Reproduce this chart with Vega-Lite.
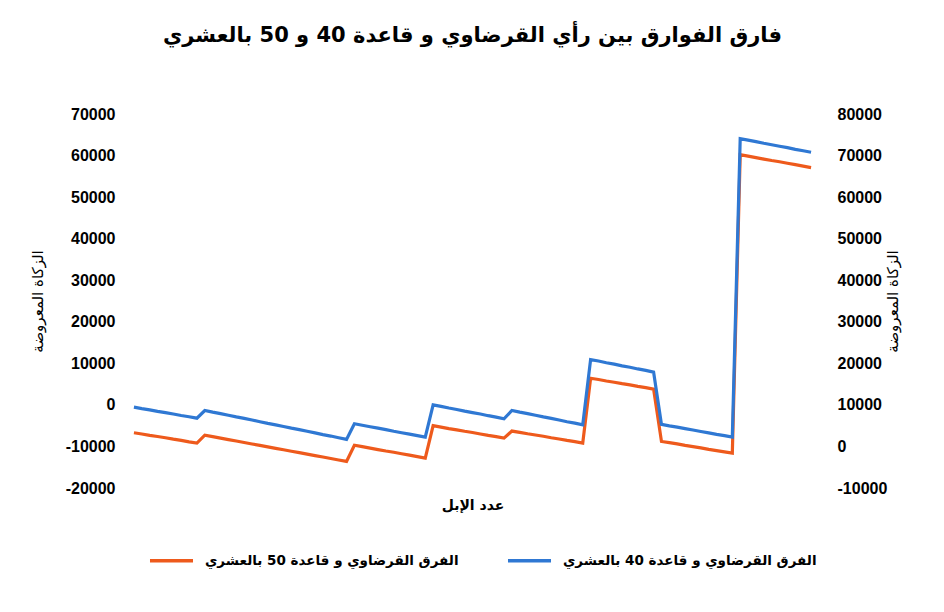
{
  "$schema": "https://vega.github.io/schema/vega-lite/v6.json",
  "width": 685,
  "height": 374,
  "autosize": {"type": "none"},
  "padding": {"left": 130, "top": 114, "right": 129, "bottom": 124},
  "background": "white",
  "title": {
    "text": "فارق الفوارق بين رأي القرضاوي و قاعدة 40 و 50  بالعشري",
    "font": "DejaVu Sans",
    "fontSize": 21,
    "fontWeight": "bold",
    "color": "#000000",
    "anchor": "middle",
    "frame": "group",
    "offset": 60
  },
  "config": {
    "view": {"stroke": null},
    "axis": {"grid": false, "domain": false, "ticks": false}
  },
  "data": {
    "values": [
      {"n": 0, "o": -6700, "b": 9450},
      {"n": 1, "o": -7000, "b": 9100},
      {"n": 2, "o": -7350, "b": 8800},
      {"n": 3, "o": -7600, "b": 8450},
      {"n": 4, "o": -7900, "b": 8150},
      {"n": 5, "o": -8250, "b": 7800},
      {"n": 6, "o": -8550, "b": 7450},
      {"n": 7, "o": -8900, "b": 7150},
      {"n": 8, "o": -9200, "b": 6800},
      {"n": 9, "o": -7300, "b": 8650},
      {"n": 10, "o": -7650, "b": 8250},
      {"n": 11, "o": -8000, "b": 7900},
      {"n": 12, "o": -8350, "b": 7500},
      {"n": 13, "o": -8700, "b": 7100},
      {"n": 14, "o": -9050, "b": 6750},
      {"n": 15, "o": -9400, "b": 6350},
      {"n": 16, "o": -9750, "b": 5950},
      {"n": 17, "o": -10100, "b": 5550},
      {"n": 18, "o": -10450, "b": 5200},
      {"n": 19, "o": -10800, "b": 4800},
      {"n": 20, "o": -11150, "b": 4400},
      {"n": 21, "o": -11500, "b": 4050},
      {"n": 22, "o": -11850, "b": 3650},
      {"n": 23, "o": -12200, "b": 3250},
      {"n": 24, "o": -12550, "b": 2850},
      {"n": 25, "o": -12900, "b": 2500},
      {"n": 26, "o": -13250, "b": 2100},
      {"n": 27, "o": -13600, "b": 1700},
      {"n": 28, "o": -9700, "b": 5450},
      {"n": 29, "o": -10050, "b": 5100},
      {"n": 30, "o": -10400, "b": 4750},
      {"n": 31, "o": -10750, "b": 4400},
      {"n": 32, "o": -11100, "b": 4050},
      {"n": 33, "o": -11400, "b": 3650},
      {"n": 34, "o": -11750, "b": 3300},
      {"n": 35, "o": -12100, "b": 2950},
      {"n": 36, "o": -12450, "b": 2600},
      {"n": 37, "o": -12800, "b": 2250},
      {"n": 38, "o": -5000, "b": 10000},
      {"n": 39, "o": -5350, "b": 9650},
      {"n": 40, "o": -5700, "b": 9250},
      {"n": 41, "o": -6000, "b": 8900},
      {"n": 42, "o": -6350, "b": 8500},
      {"n": 43, "o": -6650, "b": 8150},
      {"n": 44, "o": -7000, "b": 7800},
      {"n": 45, "o": -7350, "b": 7400},
      {"n": 46, "o": -7650, "b": 7050},
      {"n": 47, "o": -8000, "b": 6650},
      {"n": 48, "o": -6300, "b": 8650},
      {"n": 49, "o": -6600, "b": 8250},
      {"n": 50, "o": -6950, "b": 7900},
      {"n": 51, "o": -7250, "b": 7500},
      {"n": 52, "o": -7550, "b": 7100},
      {"n": 53, "o": -7900, "b": 6750},
      {"n": 54, "o": -8200, "b": 6350},
      {"n": 55, "o": -8550, "b": 5950},
      {"n": 56, "o": -8850, "b": 5600},
      {"n": 57, "o": -9200, "b": 5200},
      {"n": 58, "o": 6400, "b": 20900},
      {"n": 59, "o": 6100, "b": 20550},
      {"n": 60, "o": 5750, "b": 20150},
      {"n": 61, "o": 5450, "b": 19800},
      {"n": 62, "o": 5100, "b": 19400},
      {"n": 63, "o": 4800, "b": 19050},
      {"n": 64, "o": 4450, "b": 18650},
      {"n": 65, "o": 4150, "b": 18300},
      {"n": 66, "o": 3800, "b": 17900},
      {"n": 67, "o": -8800, "b": 5300},
      {"n": 68, "o": -9100, "b": 4950},
      {"n": 69, "o": -9400, "b": 4650},
      {"n": 70, "o": -9750, "b": 4300},
      {"n": 71, "o": -10050, "b": 3950},
      {"n": 72, "o": -10350, "b": 3600},
      {"n": 73, "o": -10700, "b": 3250},
      {"n": 74, "o": -11000, "b": 2900},
      {"n": 75, "o": -11300, "b": 2600},
      {"n": 76, "o": -11600, "b": 2250},
      {"n": 77, "o": 60200, "b": 74050},
      {"n": 78, "o": 59850, "b": 73700},
      {"n": 79, "o": 59500, "b": 73350},
      {"n": 80, "o": 59150, "b": 72950},
      {"n": 81, "o": 58800, "b": 72600},
      {"n": 82, "o": 58500, "b": 72250},
      {"n": 83, "o": 58150, "b": 71900},
      {"n": 84, "o": 57800, "b": 71500},
      {"n": 85, "o": 57450, "b": 71150},
      {"n": 86, "o": 57100, "b": 70800}
    ]
  },
  "encoding": {
    "x": {
      "field": "n",
      "type": "quantitative",
      "scale": {"domain": [-0.5, 86.5], "nice": false, "zero": false},
      "axis": {
        "labels": false,
        "ticks": false,
        "domain": false,
        "grid": false,
        "title": "عدد الإبل",
        "titleFont": "DejaVu Sans",
        "titleFontSize": 14,
        "titleFontWeight": "bold",
        "titleColor": "#000000",
        "titlePadding": 10
      }
    }
  },
  "layer": [
    {
      "mark": {"type": "line", "strokeWidth": 3.2, "interpolate": "linear"},
      "encoding": {
        "y": {
          "field": "o",
          "type": "quantitative",
          "scale": {"domain": [-20000, 70000], "nice": false, "zero": false},
          "axis": {
            "orient": "left",
            "values": [-20000, -10000, 0, 10000, 20000, 30000, 40000, 50000, 60000, 70000],
            "format": "d",
            "labelExpr": "replace(datum.label, '\u2212', '-')",
            "labelFont": "Liberation Sans",
            "labelFontSize": 16,
            "labelFontWeight": "bold",
            "labelColor": "#000000",
            "labelPadding": 15,
            "title": "الزكاة المعروضة",
            "titleFont": "DejaVu Sans",
            "titleFontSize": 15,
            "titleFontWeight": "normal",
            "titleColor": "#000000",
            "titlePadding": 20
          }
        },
        "color": {
          "datum": "الفرق القرضاوي و قاعدة  50  بالعشري",
          "type": "nominal",
          "scale": {
            "domain": ["الفرق القرضاوي و قاعدة  50  بالعشري", "الفرق القرضاوي و قاعدة  40  بالعشري"],
            "range": ["#EE5A1C", "#2F78D3"]
          },
          "legend": {
            "title": null,
            "orient": "none",
            "legendX": 18,
            "legendY": 423,
            "direction": "horizontal",
            "symbolType": "stroke",
            "symbolSize": 1850,
            "symbolStrokeWidth": 3.5,
            "labelFont": "DejaVu Sans",
            "labelFontSize": 13.5,
            "labelFontWeight": "bold",
            "labelColor": "#000000",
            "labelOffset": 10,
            "columnPadding": 32,
            "labelLimit": 400
          }
        }
      }
    },
    {
      "mark": {"type": "line", "strokeWidth": 3.2, "interpolate": "linear"},
      "encoding": {
        "y": {
          "field": "b",
          "type": "quantitative",
          "scale": {"domain": [-10000, 80000], "nice": false, "zero": false},
          "axis": {
            "orient": "right",
            "values": [-10000, 0, 10000, 20000, 30000, 40000, 50000, 60000, 70000, 80000],
            "format": "d",
            "labelExpr": "replace(datum.label, '\u2212', '-')",
            "labelFont": "Liberation Sans",
            "labelFontSize": 16,
            "labelFontWeight": "bold",
            "labelColor": "#000000",
            "labelPadding": 22,
            "title": "الزكاة المعروضة",
            "titleAngle": 270,
            "titleFont": "DejaVu Sans",
            "titleFontSize": 15,
            "titleFontWeight": "normal",
            "titleColor": "#000000",
            "titlePadding": 14
          }
        },
        "color": {
          "datum": "الفرق القرضاوي و قاعدة  40  بالعشري",
          "type": "nominal"
        }
      }
    }
  ],
  "resolve": {"scale": {"y": "independent"}}
}
